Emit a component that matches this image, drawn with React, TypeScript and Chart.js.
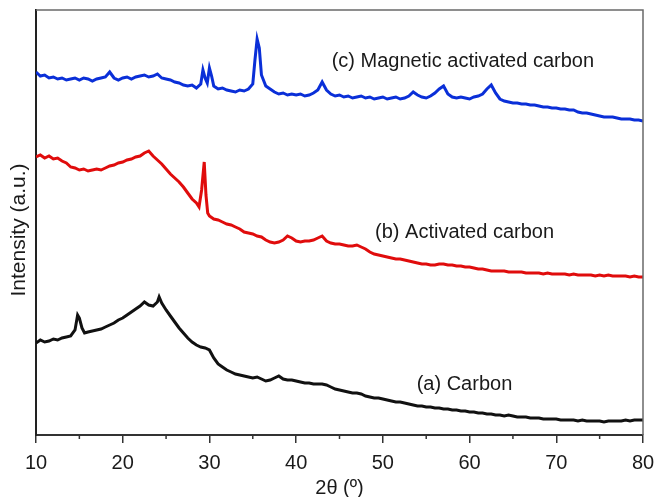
import React, { useEffect, useRef } from "react";
import { Chart, registerables } from "chart.js";

Chart.register(...registerables);

// ---- data (2θ in degrees, intensity in arbitrary units) ----
const xMajorTicks = [10, 20, 30, 40, 50, 60, 70, 80];
const xMinorTicks = [15, 25, 35, 45, 55, 65, 75];

const seriesNames = ["(a) Carbon", "(b) Activated carbon", "(c) Magnetic activated carbon"];

// (a) Carbon
const carbon: [number, number][] = [
  [10, 92], [10.5, 95], [11, 93], [11.5, 94], [12, 96], [12.5, 95], [13, 97], [13.5, 98], [14, 99], [14.5, 105],
  [14.8, 120], [15, 117], [15.3, 107], [15.6, 102], [16, 103], [16.5, 104], [17, 105], [17.5, 106], [18, 108], [18.5, 110],
  [19, 112], [19.5, 115], [20, 117], [20.5, 120], [21, 123], [21.5, 126], [22, 129], [22.5, 133], [23, 130], [23.5, 129],
  [24, 133], [24.2, 138], [24.5, 132], [25, 125], [25.5, 119], [26, 113], [26.5, 107], [27, 102], [27.5, 97], [28, 93],
  [28.5, 90], [29, 88], [29.5, 87], [30, 85], [30.5, 77], [31, 71], [31.5, 68], [32, 65], [32.5, 63], [33, 61],
  [33.5, 60], [34, 59], [34.5, 58], [35, 57], [35.5, 58], [36, 56], [36.5, 54], [37, 55], [37.5, 57], [38, 59],
  [38.5, 56], [39, 55], [39.5, 55], [40, 54], [40.5, 53], [41, 52], [41.5, 52], [42, 51], [42.5, 51], [43, 51],
  [43.5, 50], [44, 48], [44.5, 46], [45, 45], [45.5, 44], [46, 43], [46.5, 42], [47, 42], [47.5, 41], [48, 39],
  [48.5, 38], [49, 37], [49.5, 37], [50, 36], [50.5, 35], [51, 34], [51.5, 33], [52, 33], [52.5, 32], [53, 31],
  [53.5, 30], [54, 29], [54.5, 29], [55, 28], [55.5, 28], [56, 27], [56.5, 27], [57, 26], [57.5, 26], [58, 25],
  [58.5, 25], [59, 24], [59.5, 24], [60, 23], [60.5, 23], [61, 22], [61.5, 22], [62, 21], [62.5, 21], [63, 20],
  [63.5, 20], [64, 19], [64.5, 20], [65, 19], [65.5, 18], [66, 18], [66.5, 18], [67, 17], [67.5, 17], [68, 17],
  [68.5, 16], [69, 16], [69.5, 16], [70, 16], [70.5, 15], [71, 15], [71.5, 15], [72, 15], [72.5, 14], [73, 15],
  [73.5, 14], [74, 14], [74.5, 14], [75, 14], [75.5, 13], [76, 14], [76.5, 14], [77, 14], [77.5, 14], [78, 15],
  [78.5, 14], [79, 15], [79.5, 15], [80, 15],
];

// (b) Activated carbon
const activated: [number, number][] = [
  [10, 278], [10.5, 280], [11, 277], [11.5, 279], [12, 276], [12.5, 277], [13, 274], [13.5, 272], [14, 268], [14.5, 267],
  [15, 265], [15.5, 266], [16, 264], [16.5, 265], [17, 266], [17.5, 265], [18, 267], [18.5, 269], [19, 270], [19.5, 272],
  [20, 273], [20.5, 275], [21, 276], [21.5, 278], [22, 279], [22.5, 282], [23, 284], [23.5, 279], [24, 275], [24.5, 271],
  [25, 266], [25.5, 261], [26, 257], [26.5, 253], [27, 248], [27.5, 242], [28, 236], [28.5, 232], [28.8, 228], [29.1, 245],
  [29.4, 273], [29.6, 240], [29.8, 222], [30, 219], [30.5, 216], [31, 215], [31.5, 213], [32, 211], [32.5, 210], [33, 208],
  [33.5, 206], [34, 203], [34.5, 202], [35, 201], [35.5, 199], [36, 198], [36.5, 195], [37, 193], [37.5, 192], [38, 193],
  [38.5, 195], [39, 199], [39.5, 197], [40, 194], [40.5, 193], [41, 194], [41.5, 194], [42, 195], [42.5, 197], [43, 199],
  [43.5, 194], [44, 192], [44.5, 191], [45, 191], [45.5, 190], [46, 189], [46.5, 189], [47, 190], [47.5, 188], [48, 186],
  [48.5, 183], [49, 181], [49.5, 180], [50, 179], [50.5, 178], [51, 177], [51.5, 176], [52, 176], [52.5, 175], [53, 174],
  [53.5, 173], [54, 172], [54.5, 171], [55, 171], [55.5, 170], [56, 170], [56.5, 171], [57, 171], [57.5, 170], [58, 170],
  [58.5, 169], [59, 169], [59.5, 168], [60, 168], [60.5, 167], [61, 166], [61.5, 166], [62, 165], [62.5, 164], [63, 164],
  [63.5, 164], [64, 164], [64.5, 163], [65, 163], [65.5, 163], [66, 163], [66.5, 162], [67, 162], [67.5, 162], [68, 162],
  [68.5, 161], [69, 162], [69.5, 161], [70, 161], [70.5, 161], [71, 161], [71.5, 160], [72, 161], [72.5, 160], [73, 160],
  [73.5, 160], [74, 160], [74.5, 159], [75, 160], [75.5, 159], [76, 160], [76.5, 159], [77, 159], [77.5, 159], [78, 159],
  [78.5, 158], [79, 159], [79.5, 158], [80, 158],
];

// (c) Magnetic activated carbon
const magnetic: [number, number][] = [
  [10, 363], [10.5, 359], [11, 360], [11.5, 357], [12, 358], [12.5, 356], [13, 357], [13.5, 355], [14, 356], [14.5, 357],
  [15, 355], [15.5, 357], [16, 356], [16.5, 354], [17, 356], [17.5, 357], [18, 358], [18.5, 363], [19, 357], [19.5, 355],
  [20, 357], [20.5, 358], [21, 356], [21.5, 358], [22, 359], [22.5, 360], [23, 358], [23.5, 359], [24, 361], [24.5, 357],
  [25, 356], [25.5, 355], [26, 353], [26.5, 352], [27, 350], [27.5, 349], [28, 350], [28.5, 347], [29, 351], [29.25, 365],
  [29.5, 357], [29.75, 352], [30, 367], [30.25, 359], [30.5, 349], [31, 346], [31.5, 347], [32, 345], [32.5, 344], [33, 343],
  [33.5, 345], [34, 344], [34.5, 346], [35, 351], [35.25, 375], [35.5, 396], [35.75, 387], [36, 360], [36.5, 349], [37, 346],
  [37.5, 343], [38, 341], [38.5, 342], [39, 340], [39.5, 341], [40, 340], [40.5, 341], [41, 339], [41.5, 340], [42, 342],
  [42.5, 345], [43, 353], [43.5, 345], [44, 341], [44.5, 339], [45, 340], [45.5, 338], [46, 339], [46.5, 337], [47, 338],
  [47.5, 339], [48, 337], [48.5, 338], [49, 336], [49.5, 337], [50, 338], [50.5, 336], [51, 337], [51.5, 338], [52, 336],
  [52.5, 337], [53, 339], [53.5, 343], [54, 340], [54.5, 338], [55, 337], [55.5, 339], [56, 342], [56.5, 346], [57, 349],
  [57.5, 341], [58, 338], [58.5, 337], [59, 338], [59.5, 337], [60, 336], [60.5, 338], [61, 339], [61.5, 341], [62, 346],
  [62.5, 350], [63, 342], [63.5, 336], [64, 334], [64.5, 333], [65, 332], [65.5, 332], [66, 331], [66.5, 331], [67, 330],
  [67.5, 330], [68, 329], [68.5, 328], [69, 328], [69.5, 327], [70, 327], [70.5, 326], [71, 326], [71.5, 325], [72, 325],
  [72.5, 323], [73, 322], [73.5, 322], [74, 321], [74.5, 320], [75, 319], [75.5, 318], [76, 318], [76.5, 318], [77, 317],
  [77.5, 316], [78, 316], [78.5, 316], [79, 315], [79.5, 315], [80, 314],
];

// curve label anchors (data coordinates of each label's left/baseline)
const labelX = [53.9, 49.1, 44.1];
const labelY = [45, 197, 368];

const FONT = "'Liberation Sans', Arial, Helvetica, sans-serif";

const overlayPlugin = {
  id: "overlay",
  afterDraw(chart: any) {
    const { ctx, chartArea, scales } = chart;
    const xs = scales.x;
    const ys = scales.y;
    ctx.save();
    // top & right frame
    ctx.strokeStyle = "#6a6a6a";
    ctx.lineWidth = 1.5;
    ctx.beginPath();
    ctx.moveTo(chartArea.left, chartArea.top);
    ctx.lineTo(chartArea.right, chartArea.top);
    ctx.lineTo(chartArea.right, chartArea.bottom);
    ctx.stroke();
    // minor ticks
    ctx.strokeStyle = "#333";
    ctx.lineWidth = 1.5;
    for (const v of xMinorTicks) {
      const px = xs.getPixelForValue(v);
      ctx.beginPath();
      ctx.moveTo(px, chartArea.bottom);
      ctx.lineTo(px, chartArea.bottom + 4);
      ctx.stroke();
    }
    // curve labels
    ctx.fillStyle = "#1a1a1a";
    ctx.font = `20px ${FONT}`;
    ctx.textAlign = "left";
    ctx.textBaseline = "alphabetic";
    seriesNames.forEach((name, i) => {
      ctx.fillText(name, xs.getPixelForValue(labelX[i]), ys.getPixelForValue(labelY[i]));
    });
    // y title
    ctx.font = `21px ${FONT}`;
    ctx.textAlign = "center";
    ctx.textBaseline = "middle";
    ctx.translate(19, 230);
    ctx.rotate(-Math.PI / 2);
    ctx.fillText("Intensity (a.u.)", 0, 0);
    ctx.restore();
  },
};

export default function App() {
  const canvasRef = useRef<HTMLCanvasElement | null>(null);

  useEffect(() => {
    const canvas = canvasRef.current;
    if (!canvas) return;
    const toPts = (arr: [number, number][]) => arr.map(([x, y]) => ({ x, y }));
    const chart = new Chart(canvas, {
      type: "line",
      data: {
        datasets: [
          { label: seriesNames[0], data: toPts(carbon), borderColor: "#111111", borderWidth: 3, pointRadius: 0, tension: 0 },
          { label: seriesNames[1], data: toPts(activated), borderColor: "#e00c0c", borderWidth: 3, pointRadius: 0, tension: 0 },
          { label: seriesNames[2], data: toPts(magnetic), borderColor: "#0a2fd8", borderWidth: 3, pointRadius: 0, tension: 0 },
        ],
      },
      options: {
        animation: false,
        responsive: false,
        devicePixelRatio: 1,
        layout: { padding: { top: 10, right: 14, left: 0, bottom: 0 } },
        plugins: { legend: { display: false }, tooltip: { enabled: false } },
        scales: {
          x: {
            type: "linear",
            min: 10,
            max: 80,
            afterBuildTicks: (s: any) => {
              s.ticks = xMajorTicks.map((v) => ({ value: v }));
            },
            ticks: {
              font: { family: FONT, size: 20 },
              color: "#1a1a1a",
              padding: 8,
              maxRotation: 0,
              autoSkip: false,
            },
            grid: { drawOnChartArea: false, drawTicks: true, tickLength: 8, color: "#333", lineWidth: 1.5 },
            border: { display: true, color: "#333", width: 2 },
            title: {
              display: true,
              text: "2θ (º)",
              color: "#1a1a1a",
              font: { family: FONT, size: 20, lineHeight: 1 },
              padding: { top: 0, bottom: -1 },
            },
            afterFit: (s: any) => {
              s.height = 62;
              s.paddingLeft = 0;
              s.paddingRight = 0;
            },
          },
          y: {
            type: "linear",
            min: 0,
            max: 425,
            ticks: { display: false },
            grid: { display: false, drawTicks: false },
            border: { display: true, color: "#222", width: 2 },
            afterFit: (s: any) => {
              s.width = 36;
            },
          },
        },
      },
      plugins: [overlayPlugin],
    } as any);
    return () => chart.destroy();
  }, []);

  return (
    <div style={{ position: "fixed", left: 0, top: 0, width: 657, height: 497, background: "#fff" }}>
      <canvas ref={canvasRef} width={657} height={497} style={{ display: "block" }} />
    </div>
  );
}
